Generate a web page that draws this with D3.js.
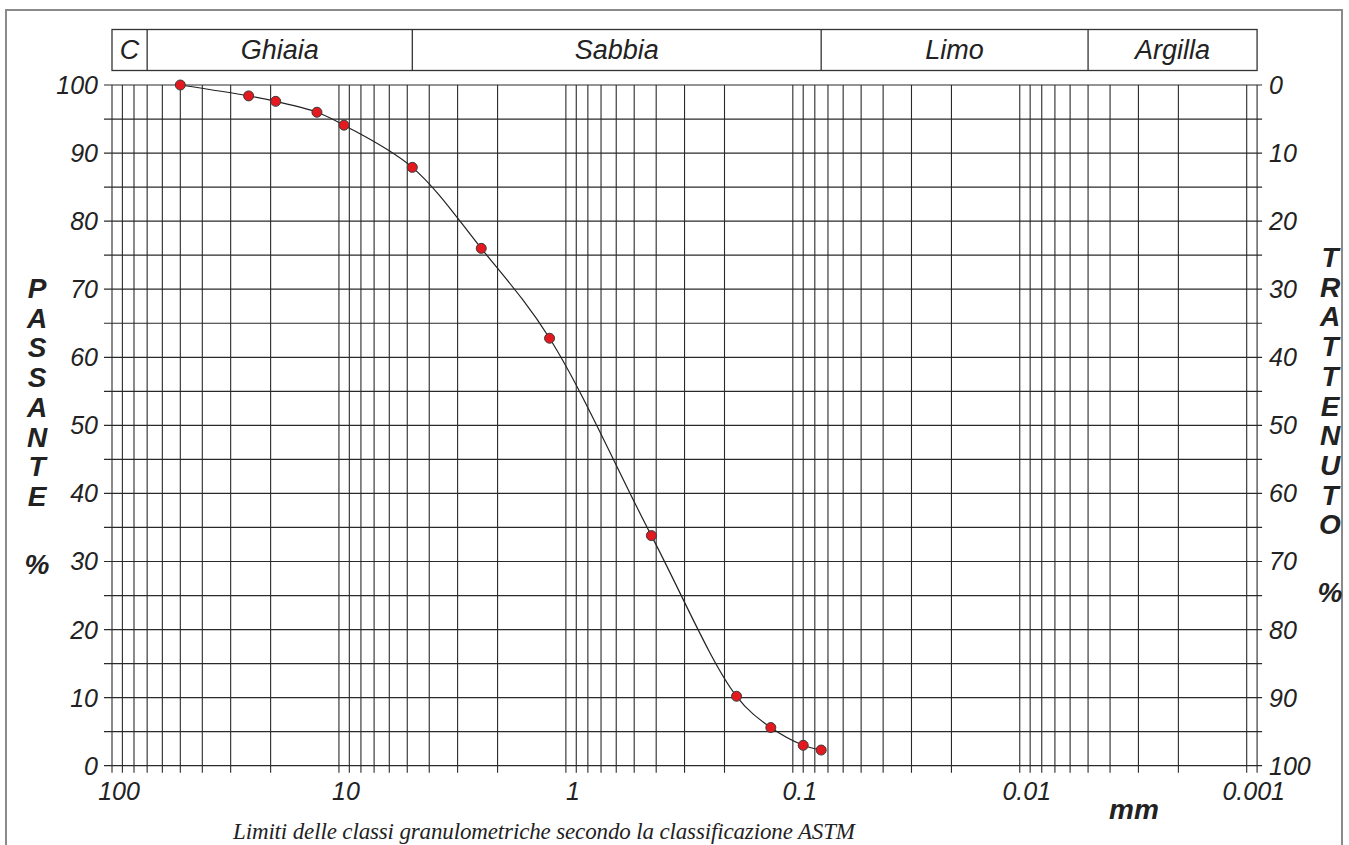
<!DOCTYPE html>
<html>
<head>
<meta charset="utf-8">
<script src="https://cdn.jsdelivr.net/npm/d3@7"></script>
<style>
  body { margin: 0; background: #fff; }
  svg text { font-family: "Liberation Sans", Arial, sans-serif; fill: #222; }
  svg text.note { font-family: "Liberation Serif", "Times New Roman", serif; }
</style>
</head>
<body>
<svg id="granulo" width="1349" height="845"></svg>
<script>
// sieve diameters (mm) and percent passing
var diameters = [50, 25, 19, 12.5, 9.5, 4.75, 2.36, 1.18, 0.42, 0.177, 0.125, 0.09, 0.075];
var passing = [100, 98.4, 97.6, 96.0, 94.1, 87.9, 76.0, 62.8, 33.8, 10.2, 5.6, 3.0, 2.3];

// ASTM class limits (mm) and names
var classLimits = [100, 70, 4.75, 0.075, 0.005, 0.0009];
var classNames = ["C", "Ghiaia", "Sabbia", "Limo", "Argilla"];

var xTickValues = [100, 10, 1, 0.1, 0.01, 0.001];
var xTickLabels = ["100", "10", "1", "0.1", "0.01", "0.001"];
var yTickValues = [0, 10, 20, 30, 40, 50, 60, 70, 80, 90, 100];

var leftTitle = ["P", "A", "S", "S", "A", "N", "T", "E"];
var rightTitle = ["T", "R", "A", "T", "T", "E", "N", "U", "T", "O"];

var svg = d3.select("#granulo");

var x = d3.scaleLog().domain([100, 0.001]).range([112, 1246.7]);
var y = d3.scaleLinear().domain([0, 100]).range([765.7, 85]);

// outer frame
svg.append("path")
  .attr("d", "M6,845V10H1342V845")
  .attr("fill", "none")
  .attr("stroke", "#8a8a8a")
  .attr("stroke-width", 2);

// vertical grid (log)
var gridX = x.ticks().concat([0.0009]);
svg.append("g")
  .selectAll("line")
  .data(gridX)
  .enter()
  .append("line")
  .attr("x1", (d) => x(d))
  .attr("x2", (d) => x(d))
  .attr("y1", y(100))
  .attr("y2", y(0) + 7)
  .attr("stroke", "#2a2a2a")
  .attr("stroke-width", 1.1);

// horizontal grid every 5 %
svg.append("g")
  .selectAll("line")
  .data(d3.range(0, 101, 5))
  .enter()
  .append("line")
  .attr("x1", 104)
  .attr("x2", x(0.0009) + 5)
  .attr("y1", (d) => y(d))
  .attr("y2", (d) => y(d))
  .attr("stroke", "#2a2a2a")
  .attr("stroke-width", 1.2);

// header with class names
var header = svg.append("g");
header.append("rect")
  .attr("x", x(100))
  .attr("y", 29.5)
  .attr("width", x(0.0009) - x(100))
  .attr("height", 41)
  .attr("fill", "none")
  .attr("stroke", "#333")
  .attr("stroke-width", 1.3);

header.selectAll("line")
  .data(classLimits.slice(1, -1))
  .enter()
  .append("line")
  .attr("x1", (d) => x(d))
  .attr("x2", (d) => x(d))
  .attr("y1", 29.5)
  .attr("y2", 70.5)
  .attr("stroke", "#333")
  .attr("stroke-width", 1.3);

header.selectAll("text")
  .data(classNames)
  .enter()
  .append("text")
  .attr("x", (d, i) => (x(classLimits[i]) + x(classLimits[i + 1])) / 2)
  .attr("y", 59)
  .attr("text-anchor", "middle")
  .attr("font-size", 27)
  .attr("font-style", "italic")
  .text((d) => d);

// y labels, left (passante) and right (trattenuto)
svg.append("g")
  .selectAll("text")
  .data(yTickValues)
  .enter()
  .append("text")
  .attr("x", 98)
  .attr("y", (d) => y(d) + 9)
  .attr("text-anchor", "end")
  .attr("font-size", 25)
  .attr("font-style", "italic")
  .text((d) => d);

svg.append("g")
  .selectAll("text")
  .data(yTickValues)
  .enter()
  .append("text")
  .attr("x", 1269)
  .attr("y", (d) => y(d) + 9)
  .attr("text-anchor", "start")
  .attr("font-size", 25)
  .attr("font-style", "italic")
  .text((d) => 100 - d);

// x labels
svg.append("g")
  .selectAll("text")
  .data(xTickValues)
  .enter()
  .append("text")
  .attr("x", (d) => x(d) + 7)
  .attr("y", 800)
  .attr("text-anchor", "middle")
  .attr("font-size", 25)
  .attr("font-style", "italic")
  .text((d, i) => xTickLabels[i]);

svg.append("text")
  .attr("x", 1134)
  .attr("y", 819)
  .attr("text-anchor", "middle")
  .attr("font-size", 28)
  .attr("font-style", "italic")
  .attr("font-weight", "bold")
  .text("mm");

svg.append("text")
  .attr("class", "note")
  .attr("x", 544)
  .attr("y", 839)
  .attr("text-anchor", "middle")
  .attr("textLength", 622)
  .attr("font-size", 23)
  .attr("font-style", "italic")
  .text("Limiti delle classi granulometriche secondo la classificazione ASTM");

// vertical axis titles
var titleStyle = (sel) => sel
  .attr("text-anchor", "middle")
  .attr("font-size", 28)
  .attr("font-style", "italic")
  .attr("font-weight", "bold");

svg.append("g")
  .selectAll("text")
  .data(leftTitle.concat(["%"]))
  .enter()
  .append("text")
  .attr("x", 37)
  .attr("y", (d, i) => (i < leftTitle.length ? 298 + i * 29.7 : 298 + (leftTitle.length - 1) * 29.7 + 68))
  .call(titleStyle)
  .text((d) => d);

svg.append("g")
  .selectAll("text")
  .data(rightTitle.concat(["%"]))
  .enter()
  .append("text")
  .attr("x", 1330)
  .attr("y", (d, i) => (i < rightTitle.length ? 267 + i * 29.7 : 267 + (rightTitle.length - 1) * 29.7 + 68))
  .call(titleStyle)
  .text((d) => d);

// granulometric curve
var points = diameters.map((d, i) => ({ d: d, p: passing[i] }));

var line = d3.line()
  .curve(d3.curveCatmullRom.alpha(0.5))
  .x((d) => x(d.d))
  .y((d) => y(d.p));

svg.append("path")
  .datum(points)
  .attr("d", line)
  .attr("fill", "none")
  .attr("stroke", "#222")
  .attr("stroke-width", 1.2);

svg.append("g")
  .selectAll("circle")
  .data(points)
  .enter()
  .append("circle")
  .attr("cx", (d) => x(d.d))
  .attr("cy", (d) => y(d.p))
  .attr("r", 5)
  .attr("fill", "#e3191f")
  .attr("stroke", "#3a3a3a")
  .attr("stroke-width", 1);
</script>
</body>
</html>
